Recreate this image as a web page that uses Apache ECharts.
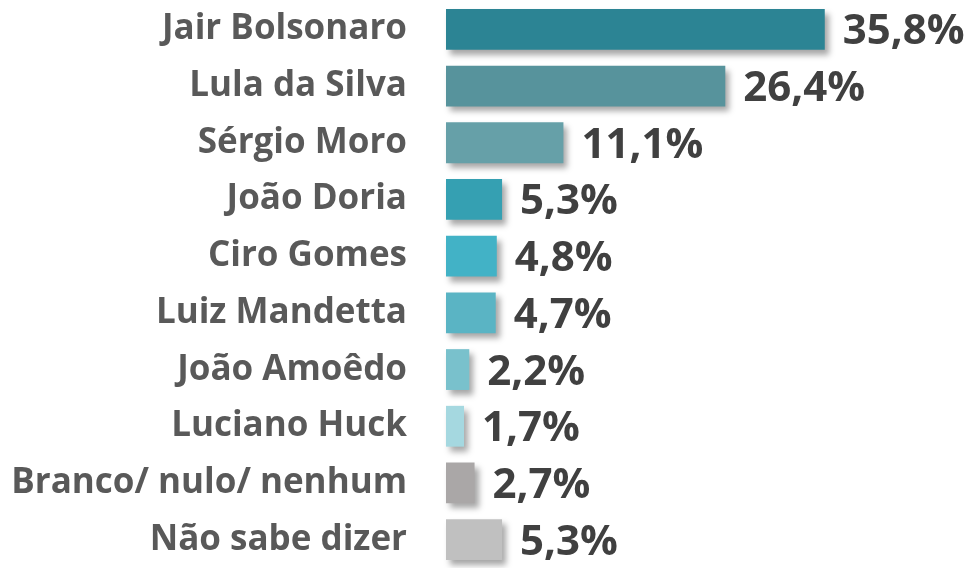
<!DOCTYPE html>
<html>
<head>
<meta charset="utf-8">
<script src="https://cdn.jsdelivr.net/npm/echarts@6/dist/echarts.min.js"></script>
<style>
  html, body { margin: 0; padding: 0; background: #fff; }
  #chart { width: 975px; height: 568px; }
</style>
</head>
<body>
<div id="chart"></div>
<script>
const candidates = ['Jair Bolsonaro', 'Lula da Silva', 'Sérgio Moro', 'João Doria', 'Ciro Gomes',
  'Luiz Mandetta', 'João Amoêdo', 'Luciano Huck', 'Branco/ nulo/ nenhum', 'Não sabe dizer']
const shares = [35.8, 26.4, 11.1, 5.3, 4.8, 4.7, 2.2, 1.7, 2.7, 5.3]
const barColors = ['#2c8494', '#57939c', '#66a0a8', '#35a0b2', '#42b2c6',
  '#5ab4c4', '#79c1cc', '#a5d8e0', '#aaa7a7', '#c0c0c0']

const chart = echarts.init(document.getElementById('chart'))

chart.setOption({
  animation: false,
  grid: { left: 446, top: 1, height: 573.3, width: 535, containLabel: false },
  xAxis: { type: 'value', min: 0, max: 50, show: false },
  yAxis: {
    type: 'category',
    data: candidates,
    inverse: true,
    axisLine: { show: false },
    axisTick: { show: false },
    axisLabel: {
      margin: 39,
      color: '#595959',
      fontFamily: 'Open Sans',
      fontWeight: 'bold',
      fontSize: 35
    }
  },
  series: [{
    type: 'bar',
    data: shares.map((v, i) => ({ value: v, itemStyle: { color: barColors[i] } })),
    barCategoryGap: '28%',
    itemStyle: {
      shadowBlur: 6,
      shadowOffsetX: 4,
      shadowOffsetY: 5,
      shadowColor: 'rgba(0,0,0,0.35)'
    },
    label: {
      show: true,
      position: 'right',
      distance: 18,
      offset: [0, 3],
      formatter: p => p.value.toFixed(1).replace('.', ',') + '%',
      color: '#404040',
      fontFamily: 'Open Sans',
      fontWeight: 'bold',
      fontSize: 42
    }
  }]
})
</script>
</body>
</html>
